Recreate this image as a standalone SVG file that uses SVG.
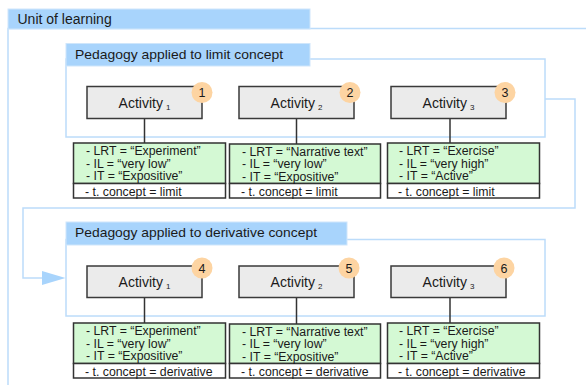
<svg xmlns="http://www.w3.org/2000/svg" width="586" height="385" viewBox="0 0 586 385">
<defs>
<style>
.frame{fill:none;stroke:#bcdcfa;stroke-width:1.5}
.hdr{fill:#a8d4fc;stroke:#cfe6fb;stroke-width:1}
.htxt{font-family:"Liberation Sans",Arial,sans-serif;fill:#1a1a1a}
.act{fill:#ebebeb;stroke:#3a3a3a;stroke-width:1.5}
.atxt{font-family:"Liberation Sans",Arial,sans-serif;font-size:14px;fill:#1a1a1a;text-anchor:middle}
.badge{fill:#fdd4a2}
.btxt{font-family:"Liberation Sans",Arial,sans-serif;font-size:12.5px;fill:#1a1a1a;text-anchor:middle}
.green{fill:#d4f9d4;stroke:#333;stroke-width:1.5}
.white{fill:#ffffff;stroke:#333;stroke-width:1.5}
.ttxt{font-family:"Liberation Sans",Arial,sans-serif;font-size:12.3px;fill:#1a1a1a}
.link{stroke:#333;stroke-width:1.5;fill:none}
.flow{stroke:#bcdcfa;stroke-width:1.5;fill:none}
</style>
</defs>
<rect width="586" height="385" fill="#ffffff"/>

<g id="unit-of-learning">
<rect class="frame" x="8" y="28.5" width="600" height="400"/>
<rect class="hdr" x="8" y="9" width="302" height="20"/>
<text class="htxt" x="17.5" y="24" font-size="14">Unit of learning</text>
</g>

<g id="pedagogy-limit">
<rect class="frame" x="66" y="59" width="479" height="78"/>
<rect class="hdr" x="66" y="43.5" width="244" height="22.5"/>
<text class="htxt" x="75" y="58.5" font-size="13.5" textLength="208" lengthAdjust="spacingAndGlyphs">Pedagogy applied to limit concept</text>
</g>

<g id="pedagogy-derivative">
<rect class="frame" x="66" y="239.5" width="479" height="76.5"/>
<rect class="hdr" x="66" y="222" width="281" height="23"/>
<text class="htxt" x="75" y="237" font-size="13.5" textLength="242" lengthAdjust="spacingAndGlyphs">Pedagogy applied to derivative concept</text>
</g>

<g id="connectors">
<path class="flow" d="M545,99 H575 V208 H23 V278 H44"/>
<polygon points="42,271 65.5,278 42,285" fill="#a8d4fc"/>
<line class="link" x1="144.5" y1="118.5" x2="144.5" y2="143"/>
<line class="link" x1="296.5" y1="118.5" x2="296.5" y2="144"/>
<line class="link" x1="450" y1="118.5" x2="450" y2="143"/>
<line class="link" x1="144.5" y1="297.5" x2="144.5" y2="323"/>
<line class="link" x1="296.5" y1="297.5" x2="296.5" y2="324"/>
<line class="link" x1="450" y1="297.5" x2="450" y2="323"/>
</g>

<g id="activity-1">
<rect class="act" x="87" y="86.5" width="115" height="32"/>
<text class="atxt" x="144.5" y="107.5">Activity<tspan font-size="8" dx="3" dy="2">1</tspan></text>
<circle class="badge" cx="202" cy="92.5" r="10.5"/>
<text class="btxt" x="202" y="97">1</text>
</g>
<g id="activity-2">
<rect class="act" x="239" y="86.5" width="115" height="32"/>
<text class="atxt" x="296.5" y="107.5">Activity<tspan font-size="8" dx="3" dy="2">2</tspan></text>
<circle class="badge" cx="350" cy="92.5" r="10.5"/>
<text class="btxt" x="350" y="97">2</text>
</g>
<g id="activity-3">
<rect class="act" x="391" y="86.5" width="115" height="32"/>
<text class="atxt" x="448.5" y="107.5">Activity<tspan font-size="8" dx="3" dy="2">3</tspan></text>
<circle class="badge" cx="505" cy="92.5" r="10.5"/>
<text class="btxt" x="505" y="97">3</text>
</g>

<g id="attributes-1">
<rect class="green" x="73.5" y="143" width="152" height="40.5"/>
<rect class="white" x="73.5" y="183.5" width="152" height="14.5"/>
<text class="ttxt" x="86" y="155">- LRT = “Experiment”</text>
<text class="ttxt" x="86" y="167.5">- IL = “very low”</text>
<text class="ttxt" x="86" y="180">- IT = “Expositive”</text>
<text class="ttxt" x="85" y="196">- t. concept = limit</text>
</g>
<g id="attributes-2">
<rect class="green" x="229.5" y="144" width="151" height="39.5"/>
<rect class="white" x="229.5" y="183.5" width="151" height="14.5"/>
<text class="ttxt" x="242" y="155.5">- LRT = “Narrative text”</text>
<text class="ttxt" x="242" y="168">- IL = “very low”</text>
<text class="ttxt" x="242" y="180.5">- IT = “Expositive”</text>
<text class="ttxt" x="241" y="196">- t. concept = limit</text>
</g>
<g id="attributes-3">
<rect class="green" x="387.5" y="143" width="152" height="40.5"/>
<rect class="white" x="387.5" y="183.5" width="152" height="14.5"/>
<text class="ttxt" x="399" y="155">- LRT = “Exercise”</text>
<text class="ttxt" x="399" y="167.5">- IL = “very high”</text>
<text class="ttxt" x="399" y="180">- IT = “Active”</text>
<text class="ttxt" x="398" y="196">- t. concept = limit</text>
</g>

<g id="activity-4">
<rect class="act" x="87" y="266" width="115" height="31.5"/>
<text class="atxt" x="144.5" y="286.5">Activity<tspan font-size="8" dx="3" dy="2">1</tspan></text>
<circle class="badge" cx="202" cy="268" r="10.5"/>
<text class="btxt" x="202" y="272.5">4</text>
</g>
<g id="activity-5">
<rect class="act" x="239" y="266" width="115" height="31.5"/>
<text class="atxt" x="296.5" y="286.5">Activity<tspan font-size="8" dx="3" dy="2">2</tspan></text>
<circle class="badge" cx="349" cy="268" r="10.5"/>
<text class="btxt" x="349" y="272.5">5</text>
</g>
<g id="activity-6">
<rect class="act" x="391" y="266" width="115" height="31.5"/>
<text class="atxt" x="448.5" y="286.5">Activity<tspan font-size="8" dx="3" dy="2">3</tspan></text>
<circle class="badge" cx="504" cy="268" r="10.5"/>
<text class="btxt" x="504" y="272.5">6</text>
</g>

<g id="attributes-4">
<rect class="green" x="73.5" y="323" width="152" height="40.5"/>
<rect class="white" x="73.5" y="363.5" width="152" height="14.5"/>
<text class="ttxt" x="86" y="335">- LRT = “Experiment”</text>
<text class="ttxt" x="86" y="347.5">- IL = “very low”</text>
<text class="ttxt" x="86" y="360">- IT = “Expositive”</text>
<text class="ttxt" x="85" y="376">- t. concept = derivative</text>
</g>
<g id="attributes-5">
<rect class="green" x="229.5" y="324" width="151" height="39.5"/>
<rect class="white" x="229.5" y="363.5" width="151" height="14.5"/>
<text class="ttxt" x="242" y="335.5">- LRT = “Narrative text”</text>
<text class="ttxt" x="242" y="348">- IL = “very low”</text>
<text class="ttxt" x="242" y="360.5">- IT = “Expositive”</text>
<text class="ttxt" x="241" y="376">- t. concept = derivative</text>
</g>
<g id="attributes-6">
<rect class="green" x="387.5" y="323" width="152" height="40.5"/>
<rect class="white" x="387.5" y="363.5" width="152" height="14.5"/>
<text class="ttxt" x="399" y="335">- LRT = “Exercise”</text>
<text class="ttxt" x="399" y="347.5">- IL = “very high”</text>
<text class="ttxt" x="399" y="360">- IT = “Active”</text>
<text class="ttxt" x="398" y="376">- t. concept = derivative</text>
</g>
</svg>
